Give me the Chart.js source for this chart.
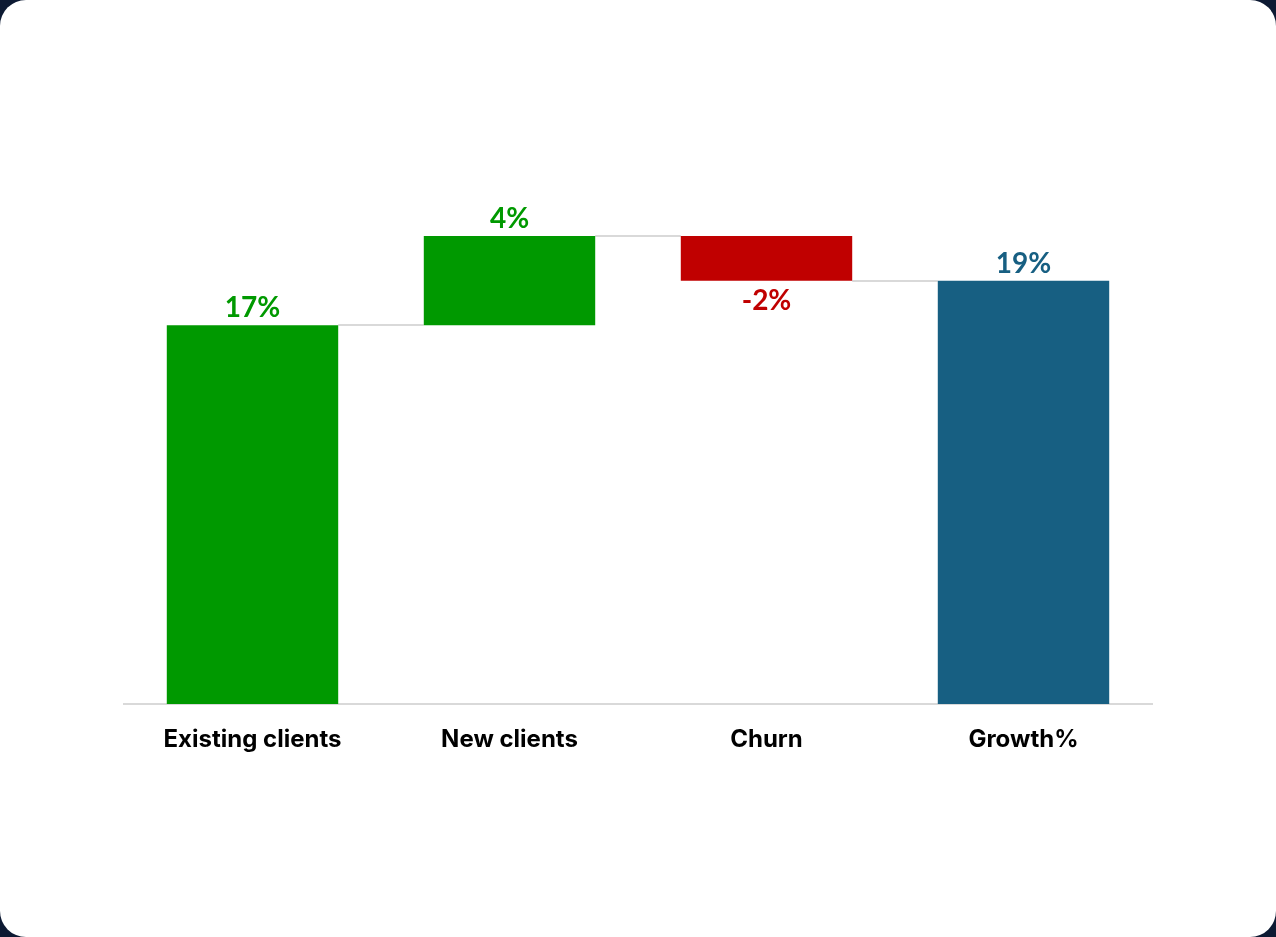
<!DOCTYPE html>
<html>
<head>
<meta charset="utf-8">
<script src="https://cdn.jsdelivr.net/npm/chart.js@4"></script>
<style>
  html, body { margin: 0; padding: 0; background: #0d1a33; }
  .card {
    position: absolute; left: 0; top: 0; width: 1276px; height: 937px;
    background: #ffffff; border-radius: 26px; overflow: hidden;
  }
  canvas { display: block; }
</style>
</head>
<body>
<div class="card"><canvas id="chart" width="1276" height="937"></canvas></div>
<script>
// waterfall data
const categories = ['Existing clients', 'New clients', 'Churn', 'Growth%'];
const barStart = [0, 17, 21, 0];
const barEnd = [17, 21, 19, 19];
const changes = [17, 4, -2, 19];
const barColors = ['#009900', '#009900', '#C00000', '#175F82'];
// connector levels between neighbouring bars
const connectorLevels = [17, 21, 19];

const floating = categories.map((c, i) => [barStart[i], barEnd[i]]);

// gray step lines joining bar tops
const connectorPlugin = {
  id: 'connectors',
  beforeDatasetsDraw(chart) {
    const ctx = chart.ctx;
    const meta = chart.getDatasetMeta(0);
    const y = chart.scales.y;
    ctx.save();
    ctx.strokeStyle = '#d9d9d9';
    ctx.lineWidth = 2;
    connectorLevels.forEach((lvl, i) => {
      const a = meta.data[i], b = meta.data[i + 1];
      const py = Math.round(y.getPixelForValue(lvl));
      ctx.beginPath();
      ctx.moveTo(a.x + a.width / 2, py);
      ctx.lineTo(b.x - b.width / 2, py);
      ctx.stroke();
    });
    ctx.restore();
  }
};

// value labels above (or below for negatives)
const valueLabelPlugin = {
  id: 'valueLabels',
  afterDatasetsDraw(chart) {
    const ctx = chart.ctx;
    const meta = chart.getDatasetMeta(0);
    const y = chart.scales.y;
    ctx.save();
    ctx.font = 'bold 28px Lato';
    ctx.textAlign = 'center';
    meta.data.forEach((bar, i) => {
      const v = changes[i];
      ctx.fillStyle = barColors[i];
      const top = y.getPixelForValue(Math.max(barStart[i], barEnd[i]));
      const bottom = y.getPixelForValue(Math.min(barStart[i], barEnd[i]));
      if (v >= 0) {
        ctx.textBaseline = 'alphabetic';
        ctx.fillText(v + '%', bar.x, top - 8);
      } else {
        ctx.textBaseline = 'top';
        ctx.fillText(v + '%', bar.x, bottom + 6);
      }
    });
    ctx.restore();
  }
};

new Chart(document.getElementById('chart'), {
  type: 'bar',
  data: {
    labels: categories,
    datasets: [{
      data: floating,
      backgroundColor: barColors,
      borderWidth: 0,
      borderSkipped: false,
      categoryPercentage: 1,
      barPercentage: 0.667,
    }],
  },
  options: {
    responsive: false,
    animation: false,
    layout: { padding: { left: 124, right: 124, top: 147, bottom: 0 } },
    plugins: { legend: { display: false }, tooltip: { enabled: false } },
    scales: {
      x: {
        grid: { display: false, drawTicks: false },
        border: { display: true, color: '#d9d9d9', width: 2 },
        ticks: { color: '#000000', font: { family: 'Inter', weight: 'bold', size: 24 }, padding: 21 },
        afterFit: (s) => { s.height = 233; },
      },
      y: { display: false, min: 0, max: 25 },
    },
  },
  plugins: [connectorPlugin, valueLabelPlugin],
});
</script>
</body>
</html>
